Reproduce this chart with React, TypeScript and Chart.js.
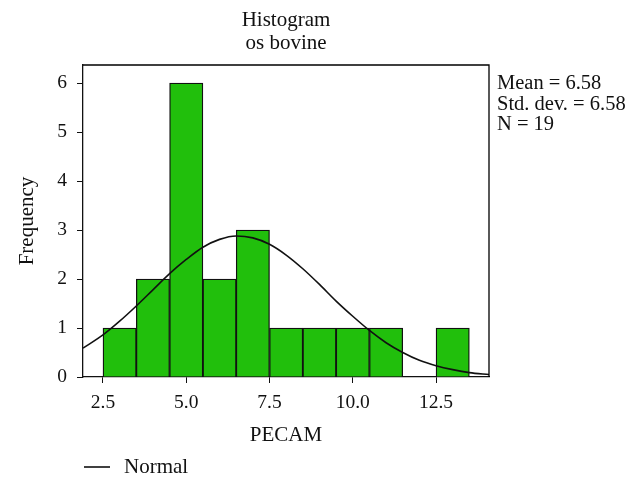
import React, { useEffect, useRef } from 'react';
import { Chart, registerables } from 'chart.js';
Chart.register(...registerables);

const binCenters = [3, 4, 5, 6, 7, 8, 9, 10, 11, 12, 13];
const frequencies = [1, 2, 6, 2, 3, 1, 1, 1, 1, 0, 1];
const normalX = [1.9, 2.5, 3, 3.5, 4, 4.5, 5, 5.5, 6, 6.5, 7, 7.5, 8, 8.5, 9, 9.5, 10, 10.5, 11, 11.5, 12, 12.5, 13, 13.5, 14.1];
const normalY = [0.59, 0.86, 1.14, 1.45, 1.78, 2.11, 2.4, 2.65, 2.81, 2.88, 2.84, 2.71, 2.49, 2.21, 1.89, 1.55, 1.24, 0.95, 0.7, 0.5, 0.34, 0.23, 0.15, 0.09, 0.05];
const xTicks = [2.5, 5, 7.5, 10, 12.5];
const yTicks = [0, 1, 2, 3, 4, 5, 6];
const titleLines = ['Histogram', 'os bovine'];
const statsLines = ['Mean = 6.58', 'Std. dev. = 6.58', 'N = 19'];
const xTitle = 'PECAM';
const yTitle = 'Frequency';
const legendLabel = 'Normal';

const FAMILY = "'Liberation Serif', 'Times New Roman', serif";
const BAR_COLOR = '#21bf0c';

export default function App() {
  const ref = useRef<HTMLCanvasElement>(null);
  useEffect(() => {
    const canvas = ref.current;
    if (!canvas) return;
    const textPlugin = {
      id: 'texts',
      afterDraw(chart: any) {
        const ctx = chart.ctx;
        const a = chart.chartArea;
        ctx.save();
        ctx.strokeStyle = '#000';
        ctx.lineWidth = 1.3;
        ctx.beginPath();
        ctx.moveTo(a.left, a.top);
        ctx.lineTo(a.right, a.top);
        ctx.lineTo(a.right, a.bottom);
        ctx.stroke();
        ctx.fillStyle = '#111';
        ctx.textBaseline = 'middle';
        ctx.font = `21px ${FAMILY}`;
        ctx.textAlign = 'center';
        const cx = (a.left + a.right) / 2;
        ctx.fillText(titleLines[0], cx, 20);
        ctx.fillText(titleLines[1], cx, 43);
        ctx.fillText(xTitle, cx, 435);
        ctx.font = `20.5px ${FAMILY}`;
        ctx.textAlign = 'left';
        statsLines.forEach((s, i) => ctx.fillText(s, a.right + 8, 84 + i * 20.5));
        ctx.font = `21px ${FAMILY}`;
        ctx.beginPath();
        ctx.lineWidth = 1.5;
        ctx.moveTo(84, 467);
        ctx.lineTo(110, 467);
        ctx.stroke();
        ctx.fillText(legendLabel, 124, 467);
        ctx.translate(27, (a.top + a.bottom) / 2);
        ctx.rotate(-Math.PI / 2);
        ctx.textAlign = 'center';
        ctx.fillText(yTitle, 0, 0);
        ctx.restore();
      },
    };
    const chart = new Chart(canvas, {
      type: 'bar',
      data: {
        datasets: [
          {
            type: 'line',
            label: legendLabel,
            data: normalX.map((x, i) => ({ x, y: normalY[i] })),
            borderColor: '#111',
            borderWidth: 1.6,
            pointRadius: 0,
            cubicInterpolationMode: 'monotone',
            fill: false,
            order: 1,
          } as any,
          {
            type: 'bar',
            label: 'Frequency',
            data: binCenters.map((x, i) => ({ x, y: frequencies[i] })),
            backgroundColor: BAR_COLOR,
            borderColor: '#111',
            borderWidth: 1.3,
            barPercentage: 1,
            categoryPercentage: 1,
            order: 2,
          } as any,
        ],
      },
      options: {
        responsive: false,
        animation: false,
        devicePixelRatio: 1,
        layout: { padding: { left: 0, right: 153, top: 65, bottom: 0 } },
        plugins: { legend: { display: false }, title: { display: false }, tooltip: { enabled: false } },
        scales: {
          x: {
            type: 'linear',
            min: 1.9,
            max: 14.09,
            offset: false,
            afterBuildTicks: (s: any) => {
              s.ticks = xTicks.map((v) => ({ value: v }));
            },
            afterFit: (s: any) => {
              s.height = 114;
            },
            ticks: {
              callback: (v: any) => Number(v).toFixed(1),
              font: { family: FAMILY, size: 19.5 },
              color: '#111',
              padding: 8,
              maxRotation: 0,
            },
            grid: { drawOnChartArea: false, drawTicks: true, tickLength: 6, color: '#111', offset: false },
            border: { color: '#111', width: 1.3 },
          },
          y: {
            type: 'linear',
            min: 0,
            max: 6.37,
            afterBuildTicks: (s: any) => {
              s.ticks = yTicks.map((v) => ({ value: v }));
            },
            afterFit: (s: any) => {
              s.width = 83;
            },
            ticks: {
              callback: (v: any) => String(v),
              font: { family: FAMILY, size: 19.5 },
              color: '#111',
              padding: 10,
            },
            grid: { drawOnChartArea: false, drawTicks: true, tickLength: 6, color: '#111' },
            border: { color: '#111', width: 1.3 },
          },
        },
      },
      plugins: [textPlugin],
    });
    return () => chart.destroy();
  }, []);
  return (
    <div style={{ position: 'absolute', left: 0, top: 0, width: 642, height: 491, background: '#fff' }}>
      <canvas ref={ref} width={642} height={491} style={{ display: 'block', width: 642, height: 491 }} />
    </div>
  );
}
